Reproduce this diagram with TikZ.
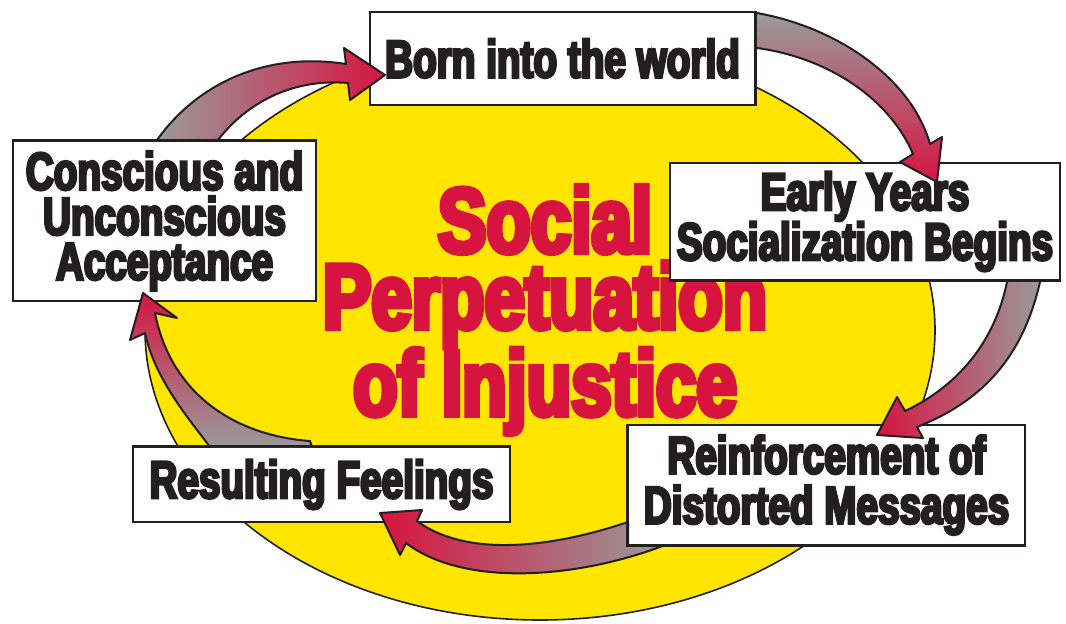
\documentclass[tikz,border=0pt]{standalone}
\usepackage{fontspec}
\newfontfamily\boxfont{Liberation Sans Bold}[FakeStretch=0.73,FakeBold=5]
\newfontfamily\titlefont{Liberation Sans Bold}[FakeStretch=0.79,FakeBold=6]
\definecolor{ink}{HTML}{231F20}
\definecolor{crim}{HTML}{D6143F}
\definecolor{sun}{HTML}{FFE500}
\definecolor{ash}{HTML}{9A9A9C}
\tikzset{
  box/.style={draw=ink, line width=2.2pt, fill=white, inner sep=0pt, text=ink,
    align=center, font=\boxfont\fontsize{53}{50}\selectfont},
  barrow/.style={draw=ink, line width=2pt, line join=round},
  edge/.style={draw=ink, line width=2.2pt},
}
\begin{document}
\begin{tikzpicture}[x=1pt,y=-1pt]
\useasboundingbox (0,0) rectangle (1066,624);
% yellow ellipse
\draw[fill=sun, draw=ink, line width=1.6pt] (540,330) ellipse [x radius=395, y radius=290];
% title
\node[text=crim, align=center, font=\titlefont\fontsize{92}{76}\selectfont] (title) at (545,310)
  {Social\\Perpetuation\\of Injustice};
% boxes
\node[box, minimum width=385pt, minimum height=93pt] (born) at (562.5,58.5) {Born into the world};
\node[box, minimum width=303pt, minimum height=160pt, font=\boxfont\fontsize{53}{45}\selectfont] (accept) at (164.5,221) {Conscious and\\Unconscious\\Acceptance};
\node[box, minimum width=390pt, minimum height=117pt] (early) at (865,221.5) {Early Years\\Socialization Begins};
\node[box, minimum width=397pt, minimum height=120pt] (reinf) at (826.5,485) {Reinforcement of\\Distorted Messages};
\node[box, minimum width=377pt, minimum height=75pt] (feel) at (321.5,484.5) {Resulting Feelings};
% arrow 1: acceptance -> born
\shadedraw[barrow, left color=ash, right color=crim]
  (157,140) .. controls (200,80) and (270,52) .. (346,64)
  -- (344,48) -- (385,75) -- (350,100) -- (348,83)
  .. controls (290,78) and (245,105) .. (218,140);
% arrow 2: born -> early
\shadedraw[barrow, top color=ash, bottom color=crim]
  (757,13) .. controls (840,28) and (912,80) .. (930,144)
  -- (942,137) -- (937,182) -- (900,162) -- (913,154)
  .. controls (890,100) and (830,58) .. (757,48);
% arrow 3: early -> reinforcement
\shadedraw[barrow, right color=ash, left color=crim]
  (1040,282) .. controls (1022,360) and (980,402) .. (917,427)
  -- (923,438) -- (877,435) -- (897,397) -- (905,411)
  .. controls (960,385) and (995,340) .. (1007,282);
% arrow 4: reinforcement -> feelings
\shadedraw[barrow, right color=ash, left color=crim]
  (665,545) .. controls (580,578) and (465,588) .. (406,543)
  -- (400,555) -- (380,513) -- (422,510) -- (417,521)
  .. controls (470,560) and (560,545) .. (628,522) -- (628,545);
% arrow 5: feelings -> acceptance
\shadedraw[barrow, bottom color=ash, top color=crim]
  (210,447) .. controls (190,420) and (155,380) .. (145,333)
  -- (130,340) -- (143,293) -- (177,318) -- (155,313)
  .. controls (170,390) and (230,435) .. (310,441) -- (312,447);
% restore box edges under arrow tails
\draw[edge] (accept.north west) -- (accept.north east);
\draw[edge] (born.north east) -- (born.south east);
\draw[edge] (early.south west) -- (early.south east);
\draw[edge] (reinf.north west) -- (reinf.south west) -- (reinf.south east);
\draw[edge] (feel.north west) -- (feel.north east);
\end{tikzpicture}
\end{document}
